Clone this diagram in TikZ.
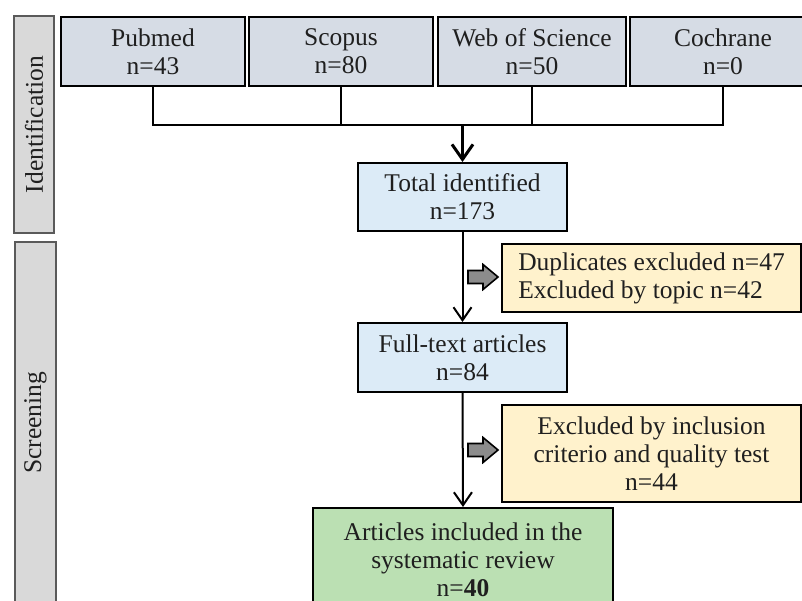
\documentclass[tikz,border=0pt]{standalone}
\usepackage{fontspec}
\setmainfont{Liberation Serif}
\usetikzlibrary{arrows.meta}
\definecolor{srcfill}{HTML}{D6DCE5}
\definecolor{bluefill}{HTML}{DCEBF7}
\definecolor{yellowfill}{HTML}{FFF2CC}
\definecolor{greenfill}{HTML}{BBE0B3}
\definecolor{barfill}{HTML}{D9D9D9}
\definecolor{barline}{HTML}{5A5A5A}
\definecolor{arrowgray}{HTML}{8C8C8C}
\tikzset{
  box/.style={draw=black, line width=2pt, align=center, inner sep=0pt, text=black!88},
  srcbox/.style={box, fill=srcfill, minimum height=69},
  bluebox/.style={box, fill=bluefill, minimum width=209},
  yellowbox/.style={box, fill=yellowfill, minimum width=299},
  greenbox/.style={box, fill=greenfill, minimum width=300, minimum height=104},
  sidebar/.style={draw=barline, line width=1.5pt, fill=barfill, inner sep=0pt, rotate=90, text=black!88},
  busline/.style={line width=2.4pt, line join=miter},
  toparrow/.style={line width=3pt, -{Straight Barb[length=15pt,width=21pt,line width=3pt]}},
  flow/.style={line width=2pt, -{Straight Barb[length=13pt,width=18pt,line width=2pt]}},
  blockarrow/.style={draw=black, line width=1.6pt, fill=arrowgray, line join=miter}
}
\begin{document}
\begin{tikzpicture}[x=1pt, y=-1pt, font=\fontsize{25.5}{28}\selectfont]
\useasboundingbox (0,0) rectangle (802,601);
\clip (0,0) rectangle (802,601);
% side bars
\node[sidebar, minimum width=217, minimum height=40] (idbar) at (34,124.5) {Identification};
\node[sidebar, minimum width=362, minimum height=41] (scbar) at (35.5,423) {Screening};
% source boxes
\node[srcbox, minimum width=184] (pub) at (153,51.5) {Pubmed\\n=43};
\node[srcbox, minimum width=184] (sco) at (341,51.5) {Scopus\\n=80};
\node[srcbox, minimum width=188] (wos) at (532,51.5) {Web of Science\\n=50};
\node[srcbox, minimum width=186] (coch) at (723,51.5) {Cochrane\\n=0};
% flow boxes
\node[bluebox, minimum height=68] (tot) at (462.5,197) {Total identified\\n=173};
\node[yellowbox, minimum height=68, align=left] (dup) at (651.5,278) {Duplicates excluded n=47\\Excluded by topic n=42};
\node[bluebox, minimum height=69] (full) at (462.5,357.5) {Full-text articles\\n=84};
\node[yellowbox, minimum height=97] (exc) at (651.5,453.5) {Excluded by inclusion\\criterio and quality test\\n=44};
\node[greenbox] (inc) at (463,560) {Articles included in the\\systematic review\\n=\textbf{40}};
% bus connecting the sources
\coordinate (bus) at (462.5,125);
\draw[busline] (pub.south) |- (bus) -| (coch.south);
\draw[busline] (sco.south) -- (sco.south |- bus);
\draw[busline] (wos.south) -- (wos.south |- bus);
\draw[toparrow] (bus) -- (tot.north);
% main flow
\draw[flow] (tot.south) -- (full.north);
\draw[flow] (full.south) -- (inc.north);
% grey block arrows
\coordinate (g1) at (468,277);
\coordinate (g2) at (468,450);
\foreach \g in {g1,g2}{
  \draw[blockarrow] (\g) ++(0,-6.5) -- ++(15,0) -- ++(0,-6) -- ++(15,12.5) -- ++(-15,12.5) -- ++(0,-6) -- ++(-15,0) -- cycle;
}
\end{tikzpicture}
\end{document}
